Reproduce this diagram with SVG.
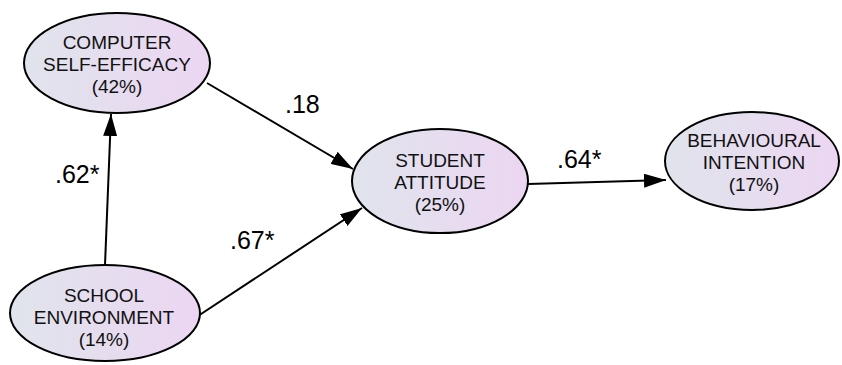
<svg xmlns="http://www.w3.org/2000/svg" width="842" height="365" viewBox="0 0 842 365">
<defs>
<linearGradient id="g" x1="0" y1="0" x2="1" y2="0">
<stop offset="0" stop-color="#e0e4ec"/>
<stop offset="1" stop-color="#ecd6f2"/>
</linearGradient>
<marker id="ah" viewBox="0 0 22 14" refX="22" refY="7" markerWidth="22" markerHeight="14" markerUnits="userSpaceOnUse" orient="auto">
<path d="M0,0 L22,7 L0,14 z" fill="#000"/>
</marker>
</defs>
<style>
.n ellipse{fill:url(#g);stroke:#000;stroke-width:2}
.n text{font-family:"Liberation Sans",Arial,sans-serif;font-size:19px;fill:#111;text-anchor:middle}
.c line{stroke:#000;stroke-width:2;marker-end:url(#ah)}
.l{font-family:"Liberation Sans",Arial,sans-serif;font-size:25px;fill:#000}
</style>
<rect width="842" height="365" fill="#fff"/>
<g class="c" id="connectors">
<line x1="105" y1="265" x2="111" y2="114"/>
<line x1="207" y1="83" x2="353" y2="169"/>
<line x1="198" y1="316" x2="362" y2="208"/>
<line x1="528" y1="184" x2="666" y2="180"/>
</g>
<g id="labels">
<text class="l" x="285" y="113">.18</text>
<text class="l" x="55" y="183">.62*</text>
<text class="l" x="230" y="249">.67*</text>
<text class="l" x="557" y="168">.64*</text>
</g>
<g class="n" id="cse">
<ellipse cx="117" cy="63" rx="93" ry="50"/>
<text x="117" y="49">COMPUTER</text>
<text x="117" y="71">SELF-EFFICACY</text>
<text x="117" y="93">(42%)</text>
</g>
<g class="n" id="sa">
<ellipse cx="440" cy="181" rx="88" ry="52"/>
<text x="440" y="167">STUDENT</text>
<text x="440" y="189">ATTITUDE</text>
<text x="440" y="211">(25%)</text>
</g>
<g class="n" id="bi">
<ellipse cx="752" cy="161" rx="87" ry="49"/>
<text x="754" y="147">BEHAVIOURAL</text>
<text x="754" y="169">INTENTION</text>
<text x="754" y="191">(17%)</text>
</g>
<g class="n" id="se">
<ellipse cx="105" cy="313" rx="95" ry="48"/>
<text x="104" y="302">SCHOOL</text>
<text x="104" y="324">ENVIRONMENT</text>
<text x="104" y="346">(14%)</text>
</g>
</svg>
